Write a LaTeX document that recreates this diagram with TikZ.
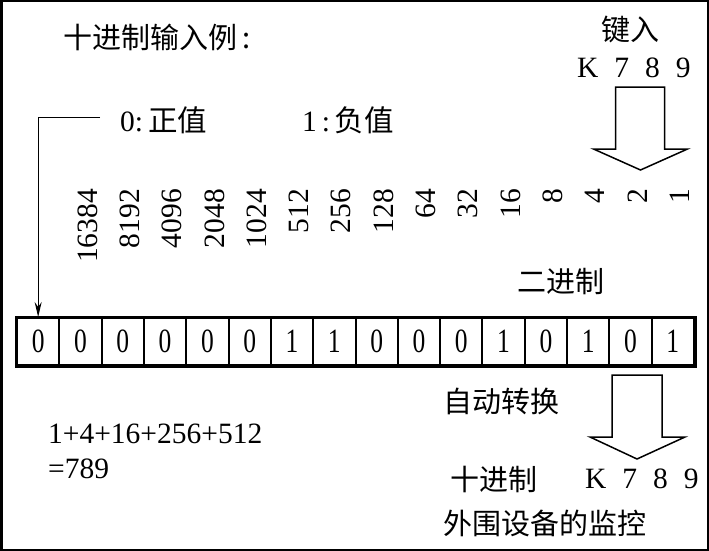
\documentclass[tikz,border=0pt]{standalone}
\usepackage{fontspec}
\setmainfont{Liberation Serif}
\newfontfamily\cjk{Noto Sans CJK SC}
\newfontfamily\narrowserif[FakeStretch=0.75]{Liberation Serif}
\usetikzlibrary{arrows.meta}

\begin{document}
\begin{tikzpicture}[x=1pt, y=-1pt,
	frame/.style={line width=2.5pt},
	bitcell/.style={shape=rectangle, draw, line width=2pt, minimum width=42.3125pt, minimum height=47pt, inner sep=0pt, font=\narrowserif\fontsize{34}{34}\selectfont},
	weight/.style={rotate=90, anchor=east, inner sep=0pt, font=\fontsize{29.5}{29.5}\selectfont},
	cjklabel/.style={inner sep=0pt, font=\cjk\fontsize{29}{29}\selectfont},
	numlabel/.style={inner sep=0pt, font=\fontsize{29.5}{29.5}\selectfont},
	blockarrow/.style={draw, line width=1.5pt, line join=miter},
	signwire/.style={line width=1pt, -{Stealth[length=15pt, width=7pt, inset=5pt]}}]
	\useasboundingbox (0,0) rectangle (709,551);
	\draw[frame] (1.25,1.25) rectangle (707.75,549.75);

	% Texts at the top:
	\node[cjklabel, anchor=west] (title) at (63,37) {十进制输入例\,:};
	\node[cjklabel] (keyin) at (630,30) {键入};
	\node[numlabel, anchor=west] (kin) at (577,68) {K\hspace{0.54em}7\hspace{0.54em}8\hspace{0.54em}9};
	\node[numlabel, anchor=west] (positive) at (120,120) {0:\,{\cjk 正值}};
	\node[numlabel, anchor=west] (negative) at (302,120) {1\,:\,{\cjk 负值}};

	% Register with its bits and weights:
	\foreach \b [count=\i from 0] in {0,0,0,0,0,0,1,1,0,0,0,1,0,1,0,1}
		\node[bitcell] (c\i) at ({17+42.3125*(\i+0.5)},341.5) {\b};
	\draw[line width=3pt] (c0.north west) rectangle (c15.south east);
	\foreach \w [count=\i] in {16384,8192,4096,2048,1024,512,256,128,64,32,16,8,4,2,1}
		\node[weight] (w\i) at ({17+42.3125*(\i+0.5)+7},189) {\w};
	\node[cjklabel, anchor=west] (binary) at (517,282) {二进制};

	% Sign bit:
	\coordinate (signend) at (100,117);
	\draw[signwire] (signend) -- (c0.north |- signend) -- (c0.north);

	% Block arrows:
	\coordinate (inarrow) at (640,87);
	\draw[blockarrow] (inarrow) ++(-24.5,0) -- ++(49,0) -- ++(0,62) -- ++(23,0) -- ++(-47,21) -- ++(-47,-21) -- ++(22,0) -- cycle;
	\coordinate (outarrow) at (637,375);
	\draw[blockarrow] (outarrow) ++(-25,0) -- ++(50,0) -- ++(0,62) -- ++(23,0) -- ++(-48,22) -- ++(-47,-22) -- ++(22,0) -- cycle;

	% Texts at the bottom:
	\node[cjklabel, anchor=west] (auto) at (443,401) {自动转换};
	\node[numlabel, anchor=west] (sum) at (48,434) {1+4+16+256+512};
	\node[numlabel, anchor=west] (result) at (48,469) {=789};
	\node[cjklabel, anchor=west] (decimal) at (450,479) {十进制};
	\node[numlabel, anchor=west] (kout) at (585,479) {K\hspace{0.54em}7\hspace{0.54em}8\hspace{0.54em}9};
	\node[cjklabel, anchor=west] (monitor) at (443,523) {外围设备的监控};
\end{tikzpicture}
\end{document}
